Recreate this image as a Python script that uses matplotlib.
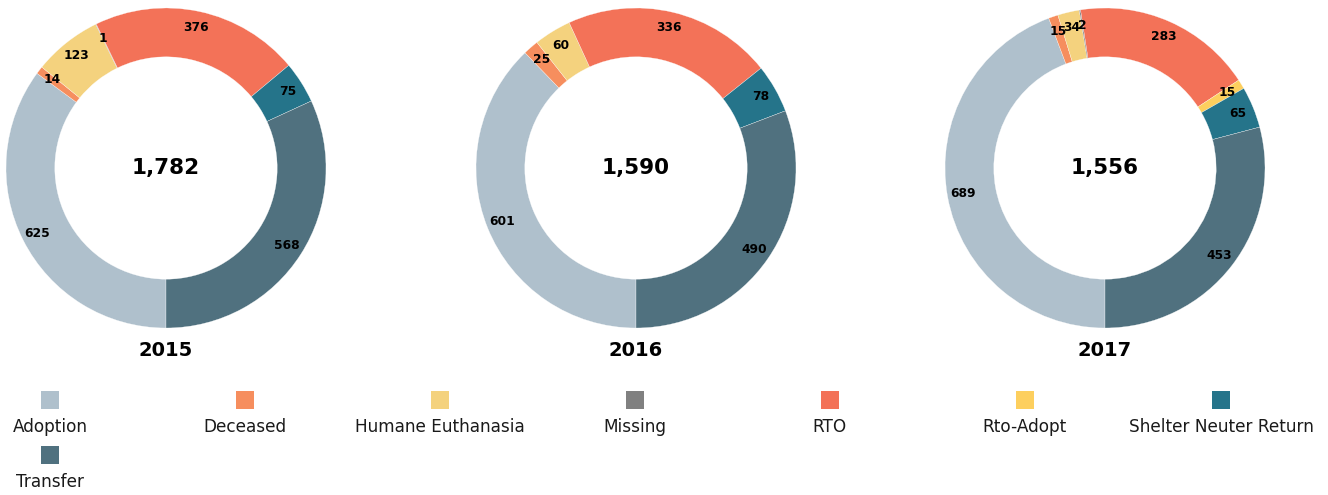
import matplotlib
matplotlib.use("Agg")
import matplotlib.pyplot as plt
from matplotlib.patches import Rectangle

W, H = 1328, 495
categories = ["Adoption", "Deceased", "Humane Euthanasia", "Missing", "RTO",
              "Rto-Adopt", "Shelter Neuter Return", "Transfer"]
colors = ["#AFC0CC", "#F68E5E", "#F4D27E", "#808080", "#F37258",
          "#FDCF5E", "#25748A", "#50717F"]
years = ["2015", "2016", "2017"]
values = {
    "2015": [625, 14, 123, 1, 376, 0, 75, 568],
    "2016": [601, 25, 60, 0, 336, 0, 78, 490],
    "2017": [689, 15, 34, 2, 283, 15, 65, 453],
}

fig = plt.figure(figsize=(W / 100, H / 100), dpi=100)
fig.patch.set_facecolor("white")

centers_x = [166, 636, 1105]
cy = 168
R = 160

for year, cx in zip(years, centers_x):
    ax = fig.add_axes([(cx - R) / W, (H - cy - R) / H, 2 * R / W, 2 * R / H])
    vals = values[year]
    idx = [i for i, v in enumerate(vals) if v > 0]
    v = [vals[i] for i in idx]
    c = [colors[i] for i in idx]
    labels = [f"{x:,}" for x in v]
    wedges, texts, autotexts = ax.pie(
        v, colors=c, startangle=-90, counterclock=False, radius=1.0,
        wedgeprops=dict(width=0.305, edgecolor="white", linewidth=0.2),
        autopct=lambda p: "", pctdistance=0.9)
    for t, lab in zip(autotexts, labels):
        t.set_text(lab)
        t.set_fontsize(8.8)
        t.set_fontweight("bold")
        t.set_color("black")
    ax.text(0, 0, f"{sum(vals):,}", ha="center", va="center",
            fontsize=15.5, fontweight="bold")
    ax.set_xlim(-1, 1)
    ax.set_ylim(-1, 1)
    ax.set_aspect("equal")
    ax.axis("off")
    fig.text(cx / W, 1 - 351 / H, year, ha="center", va="center",
             fontsize=14, fontweight="bold")

# legend
leg_x = [50, 245, 440, 635, 830, 1025, 1221, 50]
leg_row = [0, 0, 0, 0, 0, 0, 0, 1]
patch_y = [400, 455]
text_y = [427, 482]
pw, ph = 18, 18
for name, col, x, r in zip(categories, colors, leg_x, leg_row):
    fig.add_artist(Rectangle(((x - pw / 2) / W, 1 - (patch_y[r] + ph / 2) / H),
                             pw / W, ph / H, transform=fig.transFigure,
                             facecolor=col, edgecolor="none"))
    fig.text(x / W, 1 - text_y[r] / H, name, ha="center", va="center",
             fontsize=12.2, color="#1a1a1a")

fig.savefig("out.png", dpi=100, facecolor="white")
